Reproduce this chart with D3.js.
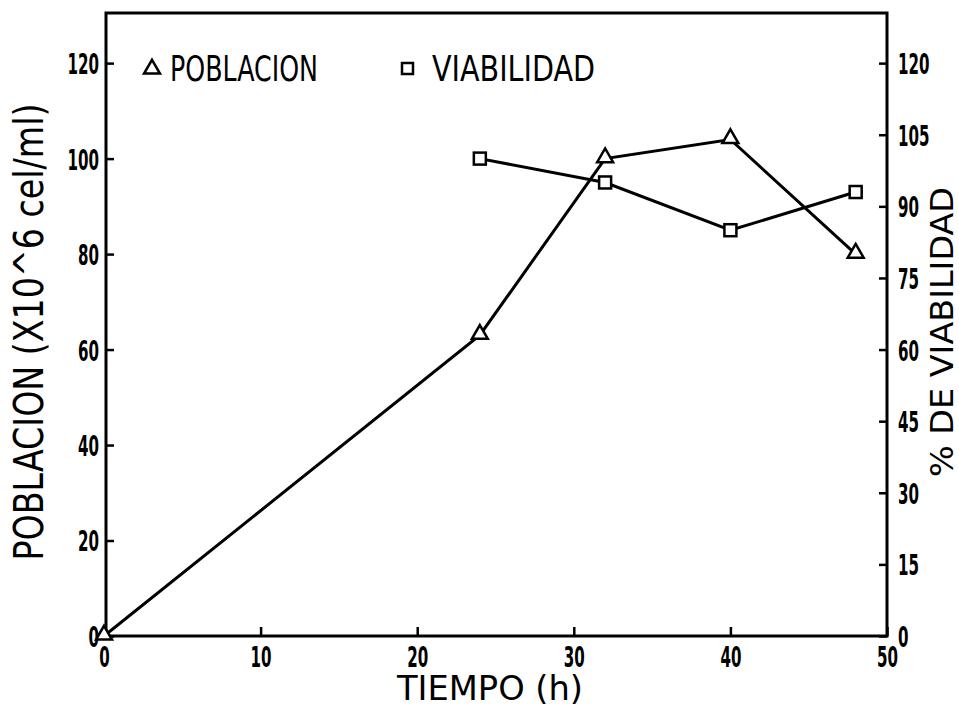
<!DOCTYPE html>
<html>
<head>
<meta charset="utf-8">
<script src="https://cdn.jsdelivr.net/npm/d3@7"></script>
<style>
  body { margin: 0; background: #fff; }
  text { font-family: "DejaVu Sans Condensed", "Liberation Sans Narrow", sans-serif; fill: #000; }
  .tick text { font-size: 29px; font-weight: bold; }
</style>
</head>
<body>
<div id="chart"></div>
<script>
const tiempo = [0, 24, 32, 40, 48];
const poblacion = [0, 63, 100, 104, 80];
const tiempoViab = [24, 32, 40, 48];
const viabilidad = [100, 95, 85, 93];
const xTicks = [0, 10, 20, 30, 40, 50];
const yLeftTicks = [0, 20, 40, 60, 80, 100, 120];
const yRightTicks = [0, 15, 30, 45, 60, 75, 90, 105, 120];

const width = 959;
const height = 708;
const margin = { top: 13, right: 71, bottom: 72, left: 104 };
const innerWidth = width - margin.left - margin.right;
const innerHeight = height - margin.top - margin.bottom;

const svg = d3.select('#chart').append('svg')
  .attr('width', width)
  .attr('height', height);

const g = svg.append('g')
  .attr('transform', `translate(${margin.left},${margin.top})`);

const xScale = d3.scaleLinear().domain([0, 50]).range([0, innerWidth - 1]);
const yScale = d3.scaleLinear().domain([0, 130.5]).range([innerHeight, 0]);
const yScale2 = d3.scaleLinear().domain([0, 130.5]).range([innerHeight, 0]);

// frame
g.append('rect')
  .attr('x', xScale(0) + 2)
  .attr('y', 0)
  .attr('width', xScale(50) - xScale(0) - 2)
  .attr('height', innerHeight)
  .attr('fill', 'none')
  .attr('stroke', '#000')
  .attr('stroke-width', 3);

const xAxis = d3.axisBottom(xScale).tickValues(xTicks).tickSize(-9).tickPadding(16);
const yAxis = d3.axisLeft(yScale).tickValues(yLeftTicks).tickSize(-8).tickPadding(7);
const yAxis2 = d3.axisRight(yScale2).tickValues(yRightTicks).tickSize(-8).tickPadding(11);

const xAxisG = g.append('g').attr('transform', `translate(0,${innerHeight})`).call(xAxis);
const yAxisG = g.append('g').attr('transform', `translate(${xScale(0) + 2},0)`).call(yAxis);
const yAxis2G = g.append('g').attr('transform', `translate(${xScale(50)},0)`).call(yAxis2);

[xAxisG, yAxisG, yAxis2G].forEach(a => {
  a.select('.domain').remove();
  a.selectAll('.tick line').attr('stroke', '#000').attr('stroke-width', 2.5);
  a.selectAll('.tick text')
    .attr('font-family', null)
    .attr('font-size', null)
    .attr('textLength', function() { return this.textContent.length * 10.5; })
    .attr('lengthAdjust', 'spacingAndGlyphs');
});
xAxisG.selectAll('.tick text').attr('dy', '0.5em');
yAxisG.selectAll('.tick text').attr('dy', '0.36em');
yAxis2G.selectAll('.tick text').attr('dy', '0.36em');

// lines
const popData = tiempo.map((t, i) => ({ x: t, y: poblacion[i] }));
const viaData = tiempoViab.map((t, i) => ({ x: t, y: viabilidad[i] }));

const linePop = d3.line().x(d => xScale(d.x)).y(d => yScale(d.y));
const lineVia = d3.line().x(d => xScale(d.x)).y(d => yScale2(d.y));

g.append('path').datum(popData)
  .attr('d', linePop)
  .attr('fill', 'none')
  .attr('stroke', '#000')
  .attr('stroke-width', 3);

g.append('path').datum(viaData)
  .attr('d', lineVia)
  .attr('fill', 'none')
  .attr('stroke', '#000')
  .attr('stroke-width', 3);

const tri = d3.symbol().type(d3.symbolTriangle).size(110);

g.selectAll('.tri').data(popData)
  .enter().append('path')
    .attr('class', 'tri')
    .attr('d', tri)
    .attr('transform', d => `translate(${xScale(d.x)},${yScale(d.y) - 1})`)
    .attr('fill', '#fff')
    .attr('stroke', '#000')
    .attr('stroke-width', 2.5);

g.selectAll('.sq').data(viaData)
  .enter().append('rect')
    .attr('class', 'sq')
    .attr('x', d => xScale(d.x) - 6)
    .attr('y', d => yScale2(d.y) - 6)
    .attr('width', 12)
    .attr('height', 12)
    .attr('fill', '#fff')
    .attr('stroke', '#000')
    .attr('stroke-width', 2.5);

// legend
g.append('path')
  .attr('d', tri)
  .attr('transform', `translate(${152 - margin.left},${69 - margin.top})`)
  .attr('fill', '#fff')
  .attr('stroke', '#000')
  .attr('stroke-width', 2.5);
g.append('text')
  .attr('x', 170 - margin.left)
  .attr('y', 81 - margin.top)
  .attr('font-size', 36)
  .attr('textLength', 148)
  .attr('lengthAdjust', 'spacingAndGlyphs')
  .text('POBLACION');

g.append('rect')
  .attr('x', 402 - margin.left)
  .attr('y', 63 - margin.top)
  .attr('width', 11)
  .attr('height', 11)
  .attr('fill', '#fff')
  .attr('stroke', '#000')
  .attr('stroke-width', 2.5);
g.append('text')
  .attr('x', 432 - margin.left)
  .attr('y', 81 - margin.top)
  .attr('font-size', 36)
  .attr('textLength', 163)
  .attr('lengthAdjust', 'spacingAndGlyphs')
  .text('VIABILIDAD');

// axis labels
svg.append('text')
  .attr('x', 490)
  .attr('y', 700)
  .attr('text-anchor', 'middle')
  .attr('font-size', 33)
  .attr('textLength', 186)
  .attr('lengthAdjust', 'spacingAndGlyphs')
  .text('TIEMPO (h)');

svg.append('text')
  .attr('transform', 'translate(43,332) rotate(-90)')
  .attr('text-anchor', 'middle')
  .attr('font-size', 40)
  .attr('textLength', 457)
  .attr('lengthAdjust', 'spacingAndGlyphs')
  .text('POBLACION (X10^6 cel/ml)');

svg.append('text')
  .attr('transform', 'translate(953,332) rotate(-90)')
  .attr('text-anchor', 'middle')
  .attr('font-size', 32)
  .attr('textLength', 290)
  .attr('lengthAdjust', 'spacingAndGlyphs')
  .text('% DE VIABILIDAD');
</script>
</body>
</html>
